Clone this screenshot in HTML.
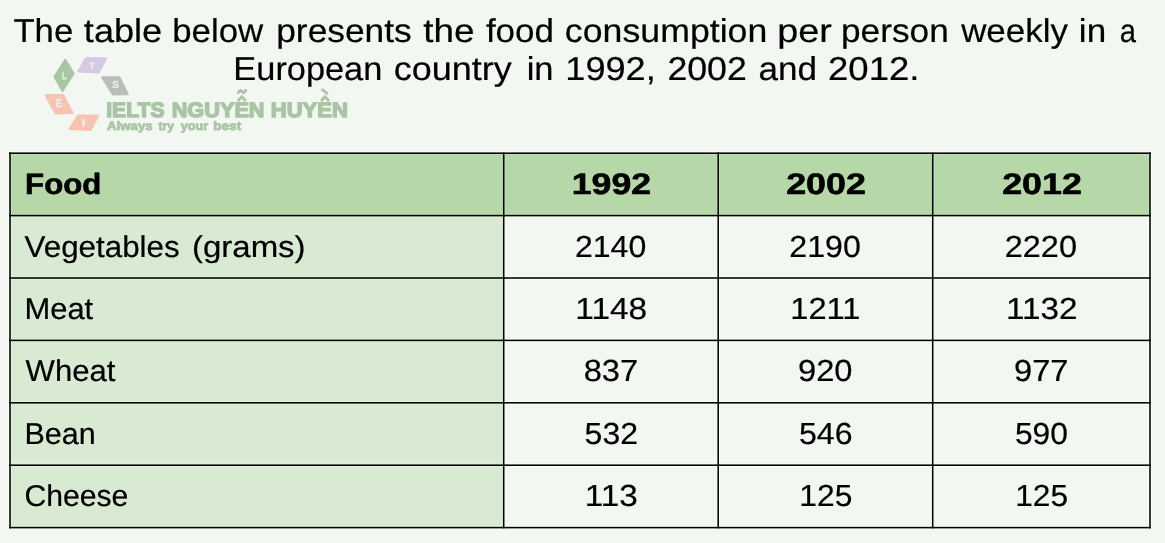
<!DOCTYPE html>
<html><head><meta charset="utf-8"><style>
html,body{margin:0;padding:0;background:#f3f7f2;width:1165px;height:543px;overflow:hidden}
svg{display:block;will-change:transform;text-rendering:geometricPrecision;font-family:"Liberation Sans",sans-serif}
</style></head><body>
<svg width="1165" height="543" viewBox="0 0 1165 543">
<rect x="0" y="0" width="1165" height="543" fill="#f3f7f2"/>
<rect x="10.0" y="153.2" width="493.70" height="62.40" fill="#b6d7a8"/>
<rect x="503.7" y="153.2" width="214.50" height="62.40" fill="#b6d7a8"/>
<rect x="718.2" y="153.2" width="214.50" height="62.40" fill="#b6d7a8"/>
<rect x="932.7" y="153.2" width="217.30" height="62.40" fill="#b6d7a8"/>
<rect x="10.0" y="215.6" width="493.70" height="62.40" fill="#d9ead3"/>
<rect x="503.7" y="215.6" width="214.50" height="62.40" fill="#f3f7f2"/>
<rect x="718.2" y="215.6" width="214.50" height="62.40" fill="#f3f7f2"/>
<rect x="932.7" y="215.6" width="217.30" height="62.40" fill="#f3f7f2"/>
<rect x="10.0" y="278.0" width="493.70" height="62.40" fill="#d9ead3"/>
<rect x="503.7" y="278.0" width="214.50" height="62.40" fill="#f3f7f2"/>
<rect x="718.2" y="278.0" width="214.50" height="62.40" fill="#f3f7f2"/>
<rect x="932.7" y="278.0" width="217.30" height="62.40" fill="#f3f7f2"/>
<rect x="10.0" y="340.4" width="493.70" height="62.40" fill="#d9ead3"/>
<rect x="503.7" y="340.4" width="214.50" height="62.40" fill="#f3f7f2"/>
<rect x="718.2" y="340.4" width="214.50" height="62.40" fill="#f3f7f2"/>
<rect x="932.7" y="340.4" width="217.30" height="62.40" fill="#f3f7f2"/>
<rect x="10.0" y="402.8" width="493.70" height="62.40" fill="#d9ead3"/>
<rect x="503.7" y="402.8" width="214.50" height="62.40" fill="#f3f7f2"/>
<rect x="718.2" y="402.8" width="214.50" height="62.40" fill="#f3f7f2"/>
<rect x="932.7" y="402.8" width="217.30" height="62.40" fill="#f3f7f2"/>
<rect x="10.0" y="465.2" width="493.70" height="62.40" fill="#d9ead3"/>
<rect x="503.7" y="465.2" width="214.50" height="62.40" fill="#f3f7f2"/>
<rect x="718.2" y="465.2" width="214.50" height="62.40" fill="#f3f7f2"/>
<rect x="932.7" y="465.2" width="217.30" height="62.40" fill="#f3f7f2"/>
<g fill="rgb(9,9,9)" style="mix-blend-mode:plus-lighter"><rect x="8.22" y="151.42" width="1143.55" height="1.0"/><rect x="8.22" y="153.97" width="1143.55" height="1.0"/><rect x="8.22" y="213.82" width="1143.55" height="1.0"/><rect x="8.22" y="216.38" width="1143.55" height="1.0"/><rect x="8.22" y="276.23" width="1143.55" height="1.0"/><rect x="8.22" y="278.77" width="1143.55" height="1.0"/><rect x="8.22" y="338.62" width="1143.55" height="1.0"/><rect x="8.22" y="341.17" width="1143.55" height="1.0"/><rect x="8.22" y="401.03" width="1143.55" height="1.0"/><rect x="8.22" y="403.57" width="1143.55" height="1.0"/><rect x="8.22" y="463.43" width="1143.55" height="1.0"/><rect x="8.22" y="465.97" width="1143.55" height="1.0"/><rect x="8.22" y="525.83" width="1143.55" height="1.0"/><rect x="8.22" y="528.38" width="1143.55" height="1.0"/><rect x="8.22" y="151.42" width="1.0" height="377.95"/><rect x="10.78" y="151.42" width="1.0" height="377.95"/><rect x="501.93" y="151.42" width="1.0" height="377.95"/><rect x="504.47" y="151.42" width="1.0" height="377.95"/><rect x="716.43" y="151.42" width="1.0" height="377.95"/><rect x="718.98" y="151.42" width="1.0" height="377.95"/><rect x="930.93" y="151.42" width="1.0" height="377.95"/><rect x="933.48" y="151.42" width="1.0" height="377.95"/><rect x="1148.22" y="151.42" width="1.0" height="377.95"/><rect x="1150.78" y="151.42" width="1.0" height="377.95"/></g>
<rect x="9.22" y="152.42" width="1141.55" height="1.55" fill="#000"/>
<rect x="9.22" y="214.82" width="1141.55" height="1.55" fill="#000"/>
<rect x="9.22" y="277.23" width="1141.55" height="1.55" fill="#000"/>
<rect x="9.22" y="339.62" width="1141.55" height="1.55" fill="#000"/>
<rect x="9.22" y="402.03" width="1141.55" height="1.55" fill="#000"/>
<rect x="9.22" y="464.43" width="1141.55" height="1.55" fill="#000"/>
<rect x="9.22" y="526.83" width="1141.55" height="1.55" fill="#000"/>
<rect x="9.22" y="152.42" width="1.55" height="375.95" fill="#000"/>
<rect x="502.93" y="152.42" width="1.55" height="375.95" fill="#000"/>
<rect x="717.43" y="152.42" width="1.55" height="375.95" fill="#000"/>
<rect x="931.93" y="152.42" width="1.55" height="375.95" fill="#000"/>
<rect x="1149.22" y="152.42" width="1.55" height="375.95" fill="#000"/>
<g stroke-linejoin="round" stroke-width="2">
  <path d="M65.3,59.7 L73.7,73.5 L62.5,90.9 L54.4,76.7 Z" fill="#a8c5a4" stroke="#a8c5a4"/>
  <path d="M86.1,57.9 L106.2,58.3 L98.8,72.5 L78.3,71.6 Z" fill="#d4cae4" stroke="#d4cae4"/>
  <path d="M102.1,77.2 L119.5,77.2 L127.8,94.2 L112.8,94.5 Z" fill="#babdb9" stroke="#babdb9"/>
  <path d="M45.6,95.1 L63.4,95.1 L72.6,113.0 L55.2,113.4 Z" fill="#f7c4b1" stroke="#f7c4b1"/>
  <path d="M77.9,115.4 L98.3,115.8 L90.6,130.0 L69.5,129.1 Z" fill="#f7c4b1" stroke="#f7c4b1"/>
</g>
<text x="13.42" y="42" font-size="32.99" textLength="59.82" lengthAdjust="spacingAndGlyphs" fill="#000" stroke="#000" stroke-width="0.2" stroke-linejoin="round">The</text>
<text x="83.85" y="42" font-size="32.99" textLength="78.35" lengthAdjust="spacingAndGlyphs" fill="#000" stroke="#000" stroke-width="0.2" stroke-linejoin="round">table</text>
<text x="172.26" y="42" font-size="32.99" textLength="90.96" lengthAdjust="spacingAndGlyphs" fill="#000" stroke="#000" stroke-width="0.2" stroke-linejoin="round">below</text>
<text x="276.22" y="42" font-size="32.99" textLength="135.55" lengthAdjust="spacingAndGlyphs" fill="#000" stroke="#000" stroke-width="0.2" stroke-linejoin="round">presents</text>
<text x="423.34" y="42" font-size="32.99" textLength="51.30" lengthAdjust="spacingAndGlyphs" fill="#000" stroke="#000" stroke-width="0.2" stroke-linejoin="round">the</text>
<text x="485.90" y="42" font-size="32.99" textLength="68.15" lengthAdjust="spacingAndGlyphs" fill="#000" stroke="#000" stroke-width="0.2" stroke-linejoin="round">food</text>
<text x="564.88" y="42" font-size="32.99" textLength="202.44" lengthAdjust="spacingAndGlyphs" fill="#000" stroke="#000" stroke-width="0.2" stroke-linejoin="round">consumption</text>
<text x="777.17" y="42" font-size="32.99" textLength="54.56" lengthAdjust="spacingAndGlyphs" fill="#000" stroke="#000" stroke-width="0.2" stroke-linejoin="round">per</text>
<text x="841.03" y="42" font-size="32.99" textLength="107.76" lengthAdjust="spacingAndGlyphs" fill="#000" stroke="#000" stroke-width="0.2" stroke-linejoin="round">person</text>
<text x="961.15" y="42" font-size="32.99" textLength="106.72" lengthAdjust="spacingAndGlyphs" fill="#000" stroke="#000" stroke-width="0.2" stroke-linejoin="round">weekly</text>
<text x="1078.85" y="42" font-size="32.99" textLength="27.33" lengthAdjust="spacingAndGlyphs" fill="#000" stroke="#000" stroke-width="0.2" stroke-linejoin="round">in</text>
<text x="1119.76" y="42" font-size="32.99" textLength="16.24" lengthAdjust="spacingAndGlyphs" fill="#000" stroke="#000" stroke-width="0.2" stroke-linejoin="round">a</text>
<text x="233.38" y="80" font-size="32.99" textLength="148.95" lengthAdjust="spacingAndGlyphs" fill="#000" stroke="#000" stroke-width="0.2" stroke-linejoin="round">European</text>
<text x="393.77" y="80" font-size="32.99" textLength="118.00" lengthAdjust="spacingAndGlyphs" fill="#000" stroke="#000" stroke-width="0.2" stroke-linejoin="round">country</text>
<text x="526.69" y="80" font-size="32.99" textLength="26.85" lengthAdjust="spacingAndGlyphs" fill="#000" stroke="#000" stroke-width="0.2" stroke-linejoin="round">in</text>
<text x="565.35" y="80" font-size="32.99" textLength="90.40" lengthAdjust="spacingAndGlyphs" fill="#000" stroke="#000" stroke-width="0.2" stroke-linejoin="round">1992,</text>
<text x="667.41" y="80" font-size="32.99" textLength="79.39" lengthAdjust="spacingAndGlyphs" fill="#000" stroke="#000" stroke-width="0.2" stroke-linejoin="round">2002</text>
<text x="758.41" y="80" font-size="32.99" textLength="58.55" lengthAdjust="spacingAndGlyphs" fill="#000" stroke="#000" stroke-width="0.2" stroke-linejoin="round">and</text>
<text x="828.06" y="80" font-size="32.99" textLength="91.37" lengthAdjust="spacingAndGlyphs" fill="#000" stroke="#000" stroke-width="0.2" stroke-linejoin="round">2012.</text>
<text x="25.11" y="194" font-size="29.36" font-weight="bold" textLength="76.24" lengthAdjust="spacingAndGlyphs" fill="#000" stroke="#000" stroke-width="0.6" stroke-linejoin="round">Food</text>
<text x="571.75" y="194" font-size="29.80" font-weight="bold" textLength="79.38" lengthAdjust="spacingAndGlyphs" fill="#000" stroke="#000" stroke-width="0.6" stroke-linejoin="round">1992</text>
<text x="786.16" y="194" font-size="29.80" font-weight="bold" textLength="79.88" lengthAdjust="spacingAndGlyphs" fill="#000" stroke="#000" stroke-width="0.6" stroke-linejoin="round">2002</text>
<text x="1002.16" y="194" font-size="29.80" font-weight="bold" textLength="79.78" lengthAdjust="spacingAndGlyphs" fill="#000" stroke="#000" stroke-width="0.6" stroke-linejoin="round">2012</text>
<text x="24.56" y="257" font-size="30.09" textLength="155.16" lengthAdjust="spacingAndGlyphs" fill="#000" stroke="#000" stroke-width="0.2" stroke-linejoin="round">Vegetables</text>
<text x="191.95" y="257" font-size="30.09" textLength="113.69" lengthAdjust="spacingAndGlyphs" fill="#000" stroke="#000" stroke-width="0.2" stroke-linejoin="round">(grams)</text>
<text x="574.99" y="257" font-size="30.52" textLength="71.26" lengthAdjust="spacingAndGlyphs" fill="#000" stroke="#000" stroke-width="0.2" stroke-linejoin="round">2140</text>
<text x="789.38" y="257" font-size="30.52" textLength="71.47" lengthAdjust="spacingAndGlyphs" fill="#000" stroke="#000" stroke-width="0.2" stroke-linejoin="round">2190</text>
<text x="1004.77" y="257" font-size="30.52" textLength="72.20" lengthAdjust="spacingAndGlyphs" fill="#000" stroke="#000" stroke-width="0.2" stroke-linejoin="round">2220</text>
<text x="24.46" y="319" font-size="30.09" textLength="68.76" lengthAdjust="spacingAndGlyphs" fill="#000" stroke="#000" stroke-width="0.2" stroke-linejoin="round">Meat</text>
<text x="575.34" y="319" font-size="30.52" textLength="71.86" lengthAdjust="spacingAndGlyphs" fill="#000" stroke="#000" stroke-width="0.2" stroke-linejoin="round">1148</text>
<text x="790.30" y="319" font-size="30.52" textLength="70.14" lengthAdjust="spacingAndGlyphs" fill="#000" stroke="#000" stroke-width="0.2" stroke-linejoin="round">1211</text>
<text x="1006.05" y="319" font-size="30.52" textLength="71.57" lengthAdjust="spacingAndGlyphs" fill="#000" stroke="#000" stroke-width="0.2" stroke-linejoin="round">1132</text>
<text x="25.56" y="381" font-size="30.09" textLength="89.86" lengthAdjust="spacingAndGlyphs" fill="#000" stroke="#000" stroke-width="0.2" stroke-linejoin="round">Wheat</text>
<text x="583.68" y="381" font-size="30.52" textLength="54.46" lengthAdjust="spacingAndGlyphs" fill="#000" stroke="#000" stroke-width="0.2" stroke-linejoin="round">837</text>
<text x="797.97" y="381" font-size="30.52" textLength="54.51" lengthAdjust="spacingAndGlyphs" fill="#000" stroke="#000" stroke-width="0.2" stroke-linejoin="round">920</text>
<text x="1014.07" y="381" font-size="30.52" textLength="54.47" lengthAdjust="spacingAndGlyphs" fill="#000" stroke="#000" stroke-width="0.2" stroke-linejoin="round">977</text>
<text x="24.50" y="444" font-size="30.09" textLength="71.18" lengthAdjust="spacingAndGlyphs" fill="#000" stroke="#000" stroke-width="0.2" stroke-linejoin="round">Bean</text>
<text x="584.62" y="444" font-size="30.52" textLength="53.39" lengthAdjust="spacingAndGlyphs" fill="#000" stroke="#000" stroke-width="0.2" stroke-linejoin="round">532</text>
<text x="799.01" y="444" font-size="30.52" textLength="53.60" lengthAdjust="spacingAndGlyphs" fill="#000" stroke="#000" stroke-width="0.2" stroke-linejoin="round">546</text>
<text x="1014.93" y="444" font-size="30.52" textLength="53.01" lengthAdjust="spacingAndGlyphs" fill="#000" stroke="#000" stroke-width="0.2" stroke-linejoin="round">590</text>
<text x="24.47" y="506" font-size="30.09" textLength="103.87" lengthAdjust="spacingAndGlyphs" fill="#000" stroke="#000" stroke-width="0.2" stroke-linejoin="round">Cheese</text>
<text x="584.67" y="506" font-size="30.52" textLength="53.12" lengthAdjust="spacingAndGlyphs" fill="#000" stroke="#000" stroke-width="0.2" stroke-linejoin="round">113</text>
<text x="799.38" y="506" font-size="30.52" textLength="52.95" lengthAdjust="spacingAndGlyphs" fill="#000" stroke="#000" stroke-width="0.2" stroke-linejoin="round">125</text>
<text x="1015.19" y="506" font-size="30.52" textLength="52.84" lengthAdjust="spacingAndGlyphs" fill="#000" stroke="#000" stroke-width="0.2" stroke-linejoin="round">125</text>
<text x="61.93" y="79" font-size="10.32" font-weight="bold" textLength="4.76" lengthAdjust="spacingAndGlyphs" fill="#e9eee9" stroke="#e9eee9" stroke-width="0.3" stroke-linejoin="round">L</text>
<text x="89.35" y="69" font-size="9.59" font-weight="bold" textLength="5.39" lengthAdjust="spacingAndGlyphs" fill="#e9eee9" stroke="#e9eee9" stroke-width="0.3" stroke-linejoin="round">T</text>
<text x="112.16" y="88" font-size="10.32" font-weight="bold" textLength="6.68" lengthAdjust="spacingAndGlyphs" fill="#e9eee9" stroke="#e9eee9" stroke-width="0.3" stroke-linejoin="round">S</text>
<text x="55.81" y="107" font-size="11.48" font-weight="bold" textLength="6.42" lengthAdjust="spacingAndGlyphs" fill="#e9eee9" stroke="#e9eee9" stroke-width="0.3" stroke-linejoin="round">E</text>
<text x="81.57" y="126" font-size="9.59" font-weight="bold" textLength="4.05" lengthAdjust="spacingAndGlyphs" fill="#e9eee9" stroke="#e9eee9" stroke-width="0.3" stroke-linejoin="round">I</text>
<text x="106.22" y="117" font-size="20.93" font-weight="bold" textLength="58.38" lengthAdjust="spacingAndGlyphs" fill="#aac5a6" stroke="#aac5a6" stroke-width="1.4" stroke-linejoin="round">IELTS</text>
<text x="171.65" y="117" font-size="20.93" font-weight="bold" textLength="92.92" lengthAdjust="spacingAndGlyphs" fill="#aac5a6" stroke="#aac5a6" stroke-width="1.4" stroke-linejoin="round">NGUYEN</text>
<text x="270.83" y="117" font-size="20.93" font-weight="bold" textLength="77.06" lengthAdjust="spacingAndGlyphs" fill="#aac5a6" stroke="#aac5a6" stroke-width="1.4" stroke-linejoin="round">HUYEN</text>
<text x="106.97" y="130" font-size="12.21" font-weight="bold" textLength="45.67" lengthAdjust="spacingAndGlyphs" fill="#aac5a6" stroke="#aac5a6" stroke-width="0.8" stroke-linejoin="round">Always</text>
<text x="158.55" y="130" font-size="12.21" font-weight="bold" textLength="15.31" lengthAdjust="spacingAndGlyphs" fill="#aac5a6" stroke="#aac5a6" stroke-width="0.8" stroke-linejoin="round">try</text>
<text x="180.70" y="130" font-size="12.21" font-weight="bold" textLength="27.39" lengthAdjust="spacingAndGlyphs" fill="#aac5a6" stroke="#aac5a6" stroke-width="0.8" stroke-linejoin="round">your</text>
<text x="213.31" y="130" font-size="12.21" font-weight="bold" textLength="27.86" lengthAdjust="spacingAndGlyphs" fill="#aac5a6" stroke="#aac5a6" stroke-width="0.8" stroke-linejoin="round">best</text>
<g fill="none" stroke="#aac5a6" stroke-width="2.8" stroke-linecap="round" stroke-linejoin="round">
  <path d="M238.6,100.2 L241.8,96.6 L245,100.2"/>
  <path d="M238.2,92.8 C239.6,90 241,90 242,91.6 C243,93.2 244.4,93.2 245.8,90.2"/>
  <path d="M321.8,100.2 L325,96.6 L328.2,100.2"/>
  <path d="M322.6,89.8 L327,93.4"/>
</g>
</svg>
</body></html>
